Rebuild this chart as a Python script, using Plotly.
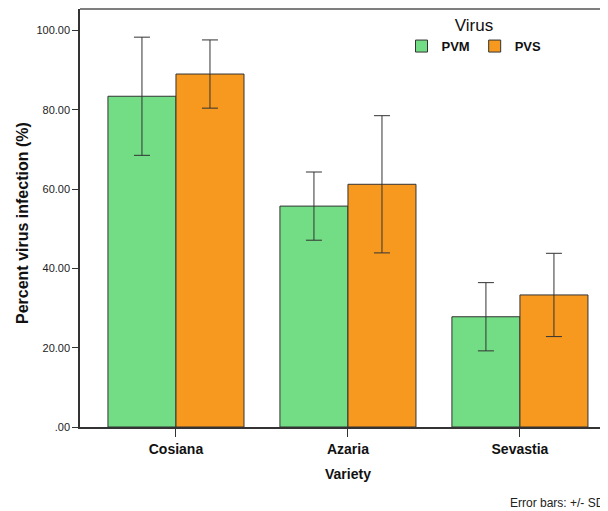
import plotly.graph_objects as go

varieties = ["Cosiana", "Azaria", "Sevastia"]
pvm_mean = [83.4, 55.7, 27.8]
pvm_sd = [14.9, 8.6, 8.6]
pvs_mean = [89.0, 61.2, 33.3]
pvs_sd = [8.6, 17.3, 10.5]
y_ticks = [0, 20, 40, 60, 80, 100]
y_tick_labels = [".00", "20.00", "40.00", "60.00", "80.00", "100.00"]

# page body has an 8px margin, so the figure is sized to fill the rest of the window
W, H = 600, 503
L, R, T, B = 72, 0, 1, 84
PW, PH = W - L - R, H - T - B


def px_x(x):
    return (x - L) / PW


def px_y(y):
    return 1 - (y - T) / PH


fig = go.Figure()
fig.add_trace(go.Bar(
    name="PVM", x=varieties, y=pvm_mean,
    marker=dict(color="#72DD85", line=dict(color="#333333", width=1)),
    error_y=dict(type="data", array=pvm_sd, visible=True, color="#333333", thickness=1, width=8),
))
fig.add_trace(go.Bar(
    name="PVS", x=varieties, y=pvs_mean,
    marker=dict(color="#F7991F", line=dict(color="#333333", width=1)),
    error_y=dict(type="data", array=pvs_sd, visible=True, color="#333333", thickness=1, width=8),
))

fig.update_layout(
    width=W, height=H,
    margin=dict(l=L, r=R, t=T, b=B, pad=0),
    plot_bgcolor="white", paper_bgcolor="white",
    barmode="group", bargap=0.209, bargroupgap=0,
    font=dict(family="Arial, Liberation Sans, sans-serif", color="#222222"),
    showlegend=True,
    legend=dict(
        orientation="h", x=px_x(466), y=1.0, xanchor="center", yanchor="top",
        title=dict(text="Virus", side="top center",
                   font=dict(size=17, color="#111111", weight="normal")),
        font=dict(size=13, color="#111111", weight="bold"),
        bgcolor="rgba(0,0,0,0)", itemwidth=30, tracegroupgap=0,
    ),
    xaxis=dict(
        type="category", range=[-0.558, 2.512],
        showline=True, linecolor="#333333", linewidth=1.5,
        ticks="outside", ticklen=8, tickcolor="#333333", tickwidth=1,
        tickfont=dict(size=14, color="#111111", weight="bold"),
        showgrid=False, zeroline=False,
    ),
    yaxis=dict(
        range=[0, 105.4],
        tickvals=y_ticks, ticktext=y_tick_labels,
        showline=True, linecolor="#333333", linewidth=1.5,
        ticks="outside", ticklen=6, tickcolor="#333333", tickwidth=1,
        tickfont=dict(size=11, color="#222222"),
        showgrid=False, zeroline=False,
    ),
    shapes=[dict(type="line", xref="paper", yref="paper", x0=0, x1=1, y0=1, y1=1,
                 line=dict(color="#555555", width=1.5))],
    annotations=[
        dict(text="Percent virus infection (%)", xref="paper", yref="paper",
             x=px_x(14), y=px_y(215), textangle=-90,
             xanchor="center", yanchor="middle", showarrow=False,
             font=dict(size=16, color="#111111", weight="bold")),
        dict(text="Variety", xref="paper", yref="paper",
             x=px_x(340), y=px_y(466),
             xanchor="center", yanchor="middle", showarrow=False,
             font=dict(size=14, color="#111111", weight="bold")),
        dict(text="Error bars: +/- SD", xref="paper", yref="paper",
             x=px_x(599), y=px_y(495),
             xanchor="right", yanchor="middle", showarrow=False,
             font=dict(size=12, color="#222222")),
    ],
)

fig.write_html("out.html")
